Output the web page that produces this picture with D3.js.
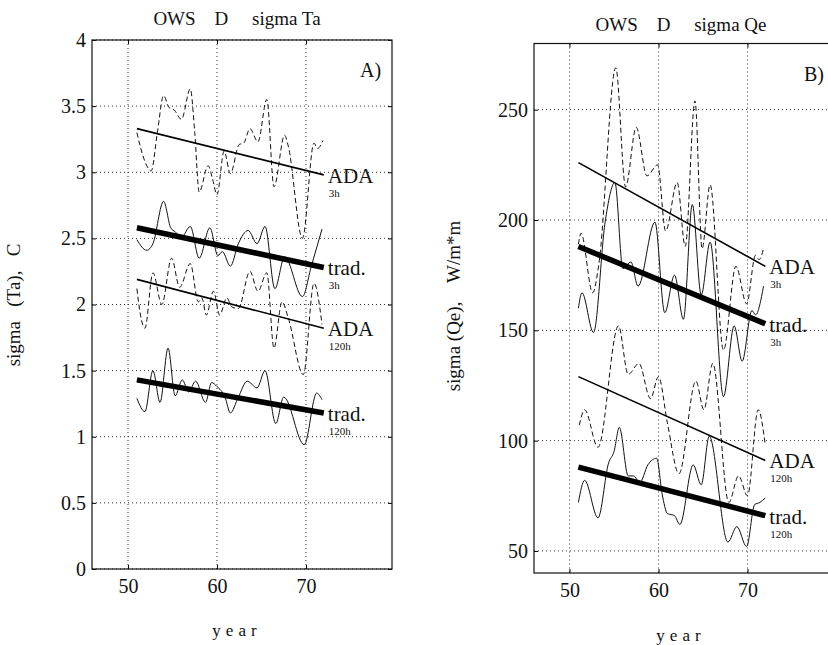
<!DOCTYPE html>
<html>
<head>
<meta charset="utf-8">
<script src="https://cdn.jsdelivr.net/npm/d3@7"></script>
<style>
  body { margin: 0; background: #fff; }
</style>
</head>
<body>
<div id="chart"></div>
<script>
// ---- data: [year, value] ----
const xTickYears = [50, 60, 70];
const tickA = [0, 0.5, 1, 1.5, 2, 2.5, 3, 3.5, 4];
const tickB = [50, 100, 150, 200, 250];

// panel A, sigma Ta (C)
const adaA3h = [[51.0,3.30],[51.8,3.10],[52.6,3.01],[53.3,3.30],[54.0,3.58],[54.6,3.49],[55.2,3.47],[56.0,3.40],[57.0,3.63],[57.5,3.30],[58.0,2.85],[59.0,3.05],[59.5,2.95],[60.0,2.83],[60.8,3.16],[61.5,2.99],[62.5,3.21],[63.0,3.22],[63.7,3.33],[64.6,3.23],[65.6,3.55],[66.4,2.89],[67.6,3.28],[68.0,3.20],[69.6,2.50],[70.9,3.22],[71.3,3.18],[71.9,3.24]];
const tradA3h = [[51.0,2.49],[52.1,2.41],[52.8,2.46],[54.0,2.78],[54.8,2.58],[55.3,2.55],[56.0,2.51],[57.0,2.59],[58.0,2.35],[59.2,2.58],[60.1,2.37],[60.6,2.40],[61.5,2.29],[62.4,2.46],[63.5,2.56],[64.5,2.46],[65.4,2.59],[66.5,2.12],[67.6,2.36],[69.6,2.06],[70.6,2.29],[71.8,2.57]];
const adaA120h = [[51.0,2.12],[51.4,1.92],[51.9,1.82],[52.8,2.24],[53.8,2.00],[54.9,2.35],[55.8,2.13],[57.0,2.31],[57.9,2.02],[58.3,2.05],[58.8,1.92],[59.6,2.10],[60.3,1.92],[61.1,2.05],[61.7,1.98],[62.4,1.97],[63.7,2.25],[64.6,2.10],[65.6,2.24],[66.4,1.67],[67.3,2.02],[68.0,1.90],[69.7,1.47],[70.9,2.16],[71.8,1.85]];
const tradA120h = [[51.0,1.29],[51.9,1.19],[52.8,1.50],[53.6,1.26],[54.5,1.67],[55.3,1.31],[56.1,1.43],[56.8,1.34],[57.6,1.42],[58.7,1.26],[59.4,1.41],[60.0,1.38],[60.9,1.30],[61.5,1.18],[62.4,1.30],[63.4,1.42],[64.5,1.37],[65.4,1.50],[66.6,1.10],[67.5,1.30],[69.8,0.94],[71.2,1.33],[71.8,1.28]];
const fitAdaA3h = [[51,3.33],[72,2.98]];
const fitTradA3h = [[51,2.58],[72,2.28]];
const fitAdaA120h = [[51,2.19],[72,1.82]];
const fitTradA120h = [[51,1.43],[72,1.18]];

// panel B, sigma Qe (W/m*m)
const adaB3h = [[51.0,189],[51.3,194],[52.6,167],[53.3,180],[55.2,269],[56.3,215],[57.5,242],[58.7,220],[59.9,225],[60.8,195],[62.1,217],[63.0,188],[64.1,254],[64.9,187],[65.8,216],[67.3,141],[68.7,179],[69.9,162],[70.9,184],[71.3,182],[71.8,187]];
const tradB3h = [[51.0,160],[51.4,167],[52.7,149],[54.0,199],[55.1,217],[56.0,178],[56.9,181],[57.7,170],[59.6,199],[60.7,158],[61.8,175],[62.8,155],[63.8,207],[64.8,166],[65.8,190],[67.3,120],[68.5,152],[69.4,136],[70.5,159],[70.9,157],[71.8,170]];
const adaB120h = [[51.1,107],[51.7,114],[53.2,97],[55.5,152],[56.6,130],[57.8,135],[59.1,119],[60.0,129],[61.0,108],[62.3,85],[64.2,127],[65.1,114],[66.1,135],[67.9,72],[69.0,84],[70.0,75],[71.2,114],[72.0,98]];
const tradB120h = [[51.0,72],[51.7,82],[53.2,65],[54.4,90],[55.0,95],[55.6,106],[56.6,84],[57.2,84],[57.9,81],[58.8,89],[59.8,92],[60.4,76],[61.0,67],[61.8,66],[62.4,62],[63.9,89],[64.8,80],[65.7,102],[67.8,54],[68.8,61],[69.9,52],[70.8,71],[71.4,72],[72.0,74]];
const fitAdaB3h = [[51,226],[72,179]];
const fitTradB3h = [[51,188],[72,153]];
const fitAdaB120h = [[51,129],[72,91]];
const fitTradB120h = [[51,88],[72,66]];

const serif = "'Liberation Serif', 'Tinos', 'Times New Roman', 'DejaVu Serif', serif";
const width = 828, height = 645;
const svg = d3.select("#chart").append("svg")
    .attr("width", width).attr("height", height)
    .attr("viewBox", [0, 0, width, height])
    .style("font-family", serif);

const panels = [
  { left: 92, right: 392, top: 40, bottom: 569, x50: 128, x70: 306, yDomain: [0, 4], yTicks: tickA,
    title: "OWS    D     sigma Ta", titleX: 237, titleY: 25, tag: "A)",
    ylabel: "sigma   (Ta),   C", ylabelX: 20, ylabelY: 305, yearY: 636,
    series: [adaA3h, tradA3h, adaA120h, tradA120h],
    fits: [fitAdaA3h, fitTradA3h, fitAdaA120h, fitTradA120h] },
  { left: 534, right: 836, top: 43.5, bottom: 573, x50: 569.5, x70: 747.5, yDomain: [40, 280], yTicks: tickB,
    title: "OWS    D     sigma Qe", titleX: 681, titleY: 31, tag: "B)",
    ylabel: "sigma (Qe),    W/m*m", ylabelX: 460, ylabelY: 306, yearY: 641,
    series: [adaB3h, tradB3h, adaB120h, tradB120h],
    fits: [fitAdaB3h, fitTradB3h, fitAdaB120h, fitTradB120h] }
];

const labels = [["ADA", "3h"], ["trad.", "3h"], ["ADA", "120h"], ["trad.", "120h"]];

panels.forEach(p => drawPanel(p));

// every text gets the serif face explicitly (the axis sets sans-serif on its group)
svg.selectAll("text").attr("font-family", serif).style("font-family", serif).attr("fill", "#111");

function drawPanel(p) {
  const x = d3.scaleLinear().domain([50, 70]).range([p.x50, p.x70]);
  const y = d3.scaleLinear().domain(p.yDomain).range([p.bottom, p.top]);
  const g = svg.append("g");

  // dotted grid
  g.append("g").selectAll("line").data(p.yTicks).join("line")
      .attr("x1", p.left).attr("x2", p.right)
      .attr("y1", d => y(d)).attr("y2", d => y(d))
      .attr("stroke", "#333").attr("stroke-width", 1).attr("stroke-dasharray", "1,3");
  g.append("g").selectAll("line").data(xTickYears).join("line")
      .attr("x1", d => x(d)).attr("x2", d => x(d))
      .attr("y1", p.top).attr("y2", p.bottom)
      .attr("stroke", "#333").attr("stroke-width", 1).attr("stroke-dasharray", "1,3");

  // axes
  const yAxis = g.append("g").attr("transform", `translate(${p.left},0)`)
      .call(d3.axisLeft(y).tickValues(p.yTicks).tickFormat(d => String(d)).tickSize(-4).tickPadding(6));
  yAxis.select(".domain").remove();
  yAxis.selectAll("text").style("font-size", "20px");

  g.append("g").attr("transform", `translate(${p.right},0)`)
      .call(d3.axisRight(y).tickValues(p.yTicks).tickFormat("").tickSize(-4))
      .select(".domain").remove();

  const xAxis = g.append("g").attr("transform", `translate(0,${p.bottom})`)
      .call(d3.axisBottom(x).tickValues(xTickYears).tickFormat(d => String(d)).tickSize(-4).tickPadding(10));
  xAxis.select(".domain").remove();
  xAxis.selectAll("text").style("font-size", "20px");

  g.append("g").attr("transform", `translate(0,${p.top})`)
      .call(d3.axisTop(x).tickValues(xTickYears).tickFormat("").tickSize(-4))
      .select(".domain").remove();

  g.append("rect")
      .attr("x", p.left).attr("y", p.top)
      .attr("width", p.right - p.left).attr("height", p.bottom - p.top)
      .attr("fill", "none").attr("stroke", "#111").attr("stroke-width", 1.2);

  const line = d3.line().x(d => x(d[0])).y(d => y(d[1])).curve(d3.curveMonotoneX);
  const straight = d3.line().x(d => x(d[0])).y(d => y(d[1]));

  // ADA series dashed, trad series solid
  p.series.forEach((s, i) => {
    g.append("path").datum(s)
        .attr("d", line)
        .attr("fill", "none").attr("stroke", "#111").attr("stroke-width", 1)
        .attr("stroke-dasharray", i % 2 === 0 ? "5,3" : null);
  });

  // linear trends: thin for ADA, thick for trad
  p.fits.forEach((f, i) => {
    g.append("path").datum(f)
        .attr("d", straight)
        .attr("fill", "none").attr("stroke", "#000")
        .attr("stroke-width", i % 2 === 0 ? 1.6 : 5.5);
    const ex = x(f[1][0]) + 4;
    const ey = y(f[1][1]) + 8;
    g.append("text").attr("x", ex).attr("y", ey)
        .style("font-size", "21px").text(labels[i][0]);
    g.append("text").attr("x", ex + 1).attr("y", ey + 14)
        .style("font-size", "11px").text(labels[i][1]);
  });

  // titles and labels
  g.append("text").attr("x", p.titleX).attr("y", p.titleY)
      .attr("text-anchor", "middle").attr("xml:space", "preserve").style("white-space", "pre")
      .style("font-size", "19px").text(p.title);
  g.append("text").attr("x", p.right - 32).attr("y", p.top + 37)
      .style("font-size", "20px").text(p.tag);
  g.append("text")
      .attr("transform", `translate(${p.ylabelX},${p.ylabelY}) rotate(-90)`)
      .attr("text-anchor", "middle").attr("xml:space", "preserve").style("white-space", "pre")
      .style("font-size", "19px").text(p.ylabel);
  g.append("text").attr("x", p.titleX).attr("y", p.yearY)
      .attr("text-anchor", "middle").style("letter-spacing", "5px")
      .style("font-size", "17px").text("year");
}
</script>
</body>
</html>
